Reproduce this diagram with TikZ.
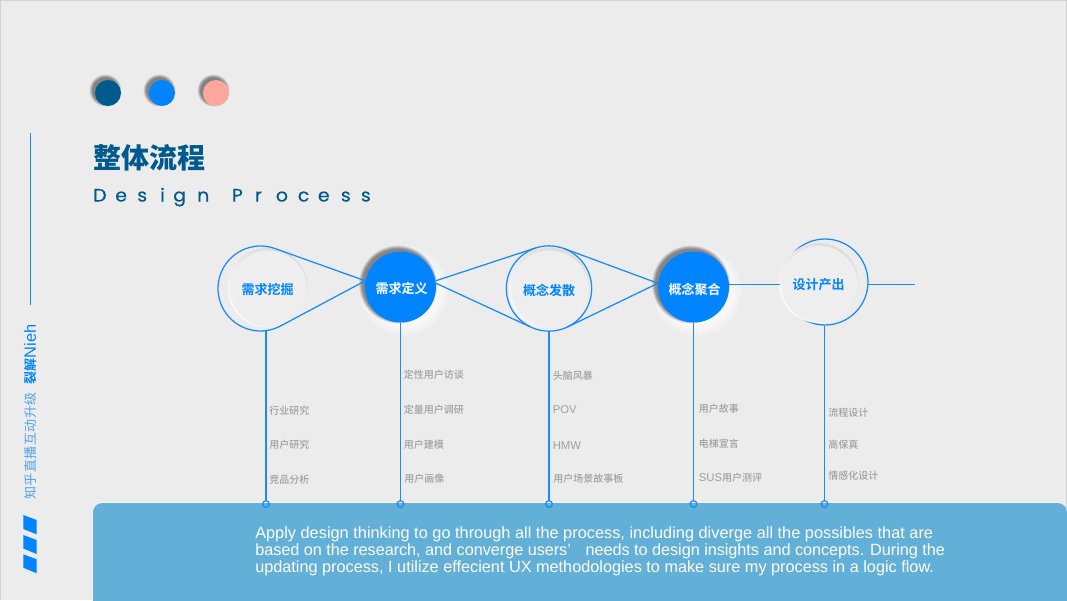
\documentclass[tikz,border=0pt]{standalone}
\usepackage{fontspec}
\usetikzlibrary{calc}
\setmainfont{Liberation Sans}
\newfontfamily\cjk{Noto Sans CJK SC Medium}
\newfontfamily\cjkr{Noto Sans CJK SC}
\newfontfamily\cjkb{Noto Sans CJK SC Bold}
\newfontfamily\cjkh{Noto Sans CJK SC Black}
\newfontfamily\latinw{Poppins}[FakeStretch=1.05,FakeBold=0.4]
\newfontfamily\bodyf{Liberation Sans}
\definecolor{pagebg}{HTML}{ECECEC}
\definecolor{edgeg}{HTML}{D2D2D2}
\definecolor{blueL}{HTML}{1A8CFA}
\definecolor{blueF}{HTML}{0084FF}
\definecolor{navy}{HTML}{005A8E}
\definecolor{pinkd}{HTML}{FFA79D}
\definecolor{panelb}{HTML}{62AFD8}
\definecolor{lab}{HTML}{A0A0A0}
\definecolor{sidel}{HTML}{4DA3EE}
\newcommand{\softdisk}[6]{% x,y,r,colour,spread,opacity
  \foreach \k in {1,...,10}{
    \fill[#4,opacity=#6] (#1,#2) circle ({#3+#5*\k/10});
  }
}
\newcommand{\softface}[3]{% x,y,r
  \shade[top color=black!14,bottom color=black!2,shading angle=-35] (#1,#2) circle (#3);
  \fill[black!6.5] ({#1+1.2},{#2+1.2}) circle ({#3-1.8});
}
\newcommand{\lat}[1]{{\bodyf\fontsize{8.5}{9}\selectfont #1}}
\newcommand{\ctr}[1]{\raisebox{-1.5pt}[\height][\depth]{#1}}
\newcommand{\lbox}[2]{\makebox[#1pt][l]{#2}}
\tikzset{
  wire/.style={draw=blueL,line width=0.95pt},
  fillcircle/.style={circle,fill=blueF,minimum size=53.25pt,inner sep=0pt,text=white,font=\cjkb\fontsize{9.75}{10}\selectfont},
  softcircle/.style={circle,minimum size=60pt,inner sep=0pt,text=blueF,font=\cjkb\fontsize{9.75}{10}\selectfont},
  ringc/.style={circle,draw=blueL,line width=0.95pt,minimum size=64pt,inner sep=0pt},
  endring/.style={circle,draw=blueL,line width=0.95pt,minimum size=5pt,inner sep=0pt},
  item/.style={anchor=west,inner sep=0pt,text=lab,font=\cjk\fontsize{7.5}{9}\selectfont},
  dot/.style={circle,minimum size=19.5pt,inner sep=0pt},
  bodyline/.style={anchor=base west,inner sep=0pt,text=white,font=\bodyf\fontsize{12.2}{13}\selectfont},
}
\begin{document}
\begin{tikzpicture}[x=0.75pt,y=-0.75pt]
\useasboundingbox (0,0) rectangle (1067,600);
\fill[pagebg] (0,0) rectangle (1067,600);
\draw[edgeg,line width=1pt] (0.4,600) -- (0.4,0.4) -- (1066.6,0.4) -- (1066.6,600);
% dots
\softdisk{105.5}{90.5}{12.5}{black}{3.5}{0.055}
\softdisk{159.5}{90.5}{12.5}{black}{3.5}{0.055}
\softdisk{213.5}{90.5}{12.5}{black}{3.5}{0.055}
\node[dot,fill=navy] (d1) at (108,93) {};
\node[dot,fill=blueF] (d2) at (162,93) {};
\node[dot,fill=pinkd] (d3) at (216,93) {};
% title
\node[anchor=west,inner sep=0pt,text=navy,font=\cjkh\fontsize{21}{24}\selectfont] (title) at (93,158) {整体流程};
\node[anchor=base west,inner sep=0pt,text=navy,font=\latinw\fontsize{13.5}{15}\selectfont] (sub) at (93,201.5) {\lbox{16.5}{D}\lbox{16.5}{e}\lbox{17.25}{s}\lbox{9.75}{i}\lbox{18}{g}\lbox{22.2}{n} \lbox{17.25}{P}\lbox{15.75}{r}\lbox{16.5}{o}\lbox{15}{c}\lbox{17.25}{e}\lbox{15}{s}s};
% side
\coordinate (s1) at (30.5,133); \coordinate (s2) at (30.5,305);
\draw[wire] (s1) -- (s2);
\node[rotate=90,anchor=west,inner sep=0pt,font=\cjkr\fontsize{9.75}{11}\selectfont,text=sidel] (sideA) at (30.5,500) {\addfontfeature{LetterSpace=4}知乎直播互动升级};
\node[rotate=90,anchor=west,inner sep=0pt,font=\cjkb\fontsize{9.75}{11}\selectfont,text=blueF] (sideB) at (30.5,384.5) {裂解{\bodyf\fontsize{12.3}{11}\selectfont Nieh}};
% bars
\fill[blueF] (23.3,515) -- (36.7,520) -- (36.7,534.3) -- (23.3,529) -- cycle;
\fill[blueF] (23.3,535) -- (36.7,540) -- (36.7,554) -- (23.3,548.5) -- cycle;
\fill[blueF] (23.3,554.3) -- (36.7,559.3) -- (36.7,573.3) -- (23.3,567.7) -- cycle;
% panel
\fill[white,opacity=.6,rounded corners=8pt] (92.5,502) rectangle (1067,610);
\fill[panelb,rounded corners=7pt] (93,503) rectangle (1067,612);
\node[bodyline] (b1) at (255,538) {\addfontfeature{LetterSpace=0.25}Apply design thinking to go through all the process, including diverge all the possibles that are};
\node[bodyline] (b2) at (255,555) {\addfontfeature{LetterSpace=-0.3}based on the research, and converge users’\hspace{0.9em}needs to design insights and concepts. During the};
\node[bodyline] (b3) at (255,572) {updating process, I utilize effecient UX methodologies to make sure my process in a logic flow.};
% neumorphic shadows
\softdisk{404}{291}{35}{white}{10}{0.12}
\softdisk{398}{284.5}{35}{black}{4}{0.055}
\softdisk{697}{291}{35}{white}{10}{0.12}
\softdisk{691}{284.5}{35}{black}{4}{0.055}
% rings under the faces
\coordinate (c1o) at (260.5,288.5);
\node[ringc] (c3o) at (549,288.5) {};
\node[ringc,minimum size=64.5pt] (c5o) at (825,282) {};
\softface{267.5}{287.5}{40}
\softface{549}{288}{40.5}
\softface{818.5}{283}{40}
% circles
\node[softcircle] (c1) at (267.5,287.5) {\ctr{需求挖掘}};
\node[fillcircle] (c2) at (400.5,287) {\hspace{1.5pt}\ctr{需求定义}};
\node[softcircle] (c3) at (549,288) {\ctr{概念发散}};
\node[fillcircle] (c4) at (693.5,287) {\hspace{1.5pt}\ctr{概念聚合}};
\node[softcircle] (c5) at (818.5,283) {\ctr{设计产出}};
% teardrop round the first circle
\coordinate (t1) at ($(c1o)+(-70.4:42.5)$);
\draw[wire,line join=round] (c2.170) -- (t1) arc (-70.4:-297.8:42.5) -- cycle;
% fans round the third circle
\coordinate (t3a) at ($(c3o.center)+(251.6:42.7)$);
\coordinate (t3b) at ($(c3o.center)+(116:42.7)$);
\coordinate (t3c) at ($(c3o.center)+(-69.6:42.7)$);
\coordinate (t3d) at ($(c3o.center)+(64.4:42.7)$);
\draw[wire] (c2.10) -- (t3a);
\draw[wire] (c2.6) -- (t3b);
\draw[wire] (c4.174) -- (t3c);
\draw[wire] (c4.174) -- (t3d);
% horizontal links
\coordinate (w1) at (729,284.3); \coordinate (w2) at (780,284.3);
\coordinate (w3) at (868,284.3); \coordinate (w4) at (915,284.3);
\draw[wire] (w1) -- (w2);
\draw[wire] (w3) -- (w4);
% stems
\node[endring] (e1) at (266,504) {};
\node[endring] (e2) at (400.5,504) {};
\node[endring] (e3) at (549,504) {};
\node[endring] (e4) at (693.5,504) {};
\node[endring] (e5) at (824.5,504) {};
\coordinate (v1) at (266,330.6);
\draw[wire] (v1) -- (e1);
\draw[wire] (c2.south) -- (e2);
\draw[wire] (c3o.south) -- (e3);
\draw[wire] (c4.south) -- (e4);
\draw[wire] (e5 |- c5o.south) -- (e5);
% items
\node[item] (i11) at (269,411) {行业研究};
\node[item] (i12) at (269,445) {用户研究};
\node[item] (i13) at (269,479.5) {竞品分析};
\node[item] (i21) at (403.5,375) {定性用户访谈};
\node[item] (i22) at (403.5,410) {定量用户调研};
\node[item] (i23) at (403.5,445) {用户建模};
\node[item] (i24) at (404,478.5) {用户画像};
\node[item] (i31) at (552.5,376) {头脑风暴};
\node[item] (i32) at (552.5,410) {\lat{POV}};
\node[item] (i33) at (552.5,445.5) {\lat{HMW}};
\node[item] (i34) at (553,479) {用户场景故事板};
\node[item] (i41) at (698.5,409) {用户故事};
\node[item] (i42) at (698.5,443.5) {电梯宣言};
\node[item] (i43) at (698.5,478) {\lat{SUS}用户测评};
\node[item] (i51) at (828,413) {流程设计};
\node[item] (i52) at (828,445) {高保真};
\node[item] (i53) at (828,476) {情感化设计};
\end{tikzpicture}
\end{document}
